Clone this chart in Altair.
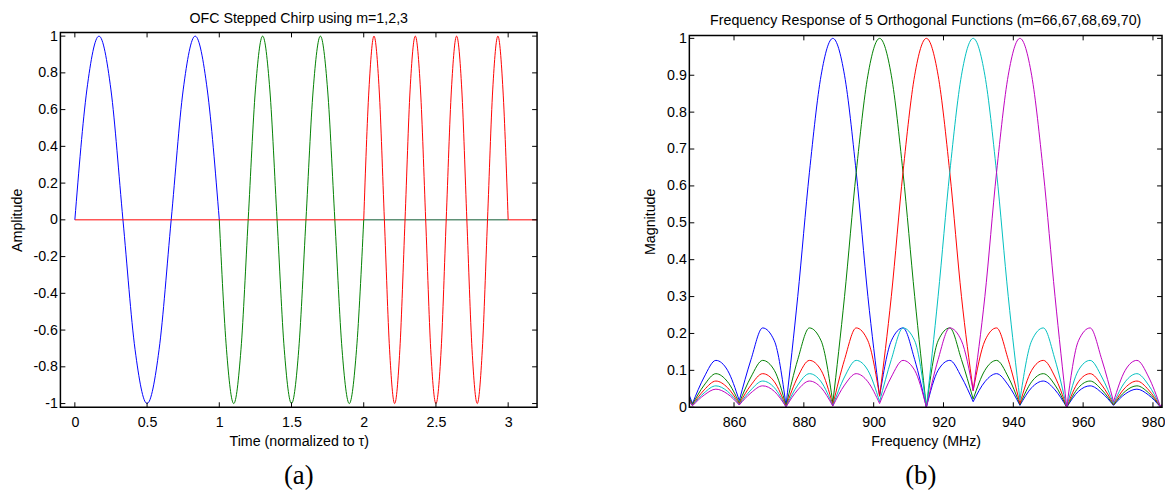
import altair as alt
import pandas as pd

# ---------------- Panel (a): OFC stepped chirp ----------------
TITLE_A = ["OFC Stepped Chirp using m=1,2,3"]
XLABEL_A = "Time (normalized to τ)"
YLABEL_A = "Amplitude"
CAPTION_A = ["(a)"]
SERIES_A = ["m=1", "m=2", "m=3"]

BLUE_T = [0.0, 0.083, 0.167, 0.25, 0.333, 0.417, 0.5, 0.583, 0.667, 0.75, 0.833, 0.917, 1.0]
BLUE_Y = [0.0, 0.707, 1.0, 0.707, 0.0, -0.707, -1.0, -0.707, 0.0, 0.707, 1.0, 0.707, 0.0]

GREEN_T = [1.0, 1.05, 1.1, 1.15, 1.2, 1.25, 1.3, 1.35, 1.4, 1.45, 1.5,
           1.55, 1.6, 1.65, 1.7, 1.75, 1.8, 1.85, 1.9, 1.95, 2.0]
GREEN_Y = [0.0, -0.707, -1.0, -0.707, 0.0, 0.707, 1.0, 0.707, 0.0, -0.707, -1.0,
           -0.707, 0.0, 0.707, 1.0, 0.707, 0.0, -0.707, -1.0, -0.707, 0.0]

RED_T = [2.0, 2.036, 2.071, 2.107, 2.143, 2.179, 2.214, 2.25, 2.286, 2.321, 2.357,
         2.393, 2.429, 2.464, 2.5, 2.536, 2.571, 2.607, 2.643, 2.679, 2.714, 2.75,
         2.786, 2.821, 2.857, 2.893, 2.929, 2.964, 3.0]
RED_Y = [0.0, 0.707, 1.0, 0.707, 0.0, -0.707, -1.0, -0.707, 0.0, 0.707, 1.0,
         0.707, 0.0, -0.707, -1.0, -0.707, 0.0, 0.707, 1.0, 0.707, 0.0, -0.707,
         -1.0, -0.707, 0.0, 0.707, 1.0, 0.707, 0.0]

# zero-level stretches of the series outside their own interval
ZERO_START = [0.0, 2.0, 3.0]
ZERO_END = [2.0, 3.0, 3.2]
ZERO_LEVEL = [0.0, 0.0, 0.0]
ZERO_SERIES = ["m=3", "m=2", "m=3"]

A_XTICKS = [0, 0.5, 1, 1.5, 2, 2.5, 3]
A_YTICKS = [-1, -0.8, -0.6, -0.4, -0.2, 0, 0.2, 0.4, 0.6, 0.8, 1]

# ---------------- Panel (b): frequency responses ----------------
TITLE_B = ["Frequency Response of 5 Orthogonal Functions (m=66,67,68,69,70)"]
XLABEL_B = "Frequency (MHz)"
YLABEL_B = "Magnitude"
CAPTION_B = ["(b)"]
SERIES_B = ["m=66", "m=67", "m=68", "m=69", "m=70"]

FREQ = [847.2, 848.1, 851.45, 854.8, 858.15, 861.5, 864.85, 868.2, 871.55, 874.9,
        878.25, 881.6, 884.95, 888.3, 891.65, 895.0, 898.35, 901.7, 905.05, 908.4,
        911.75, 915.1, 918.45, 921.8, 925.15, 928.5, 931.85, 935.2, 938.55, 941.9,
        945.25, 948.6, 951.95, 955.3, 958.65, 962.0, 965.35, 968.7, 972.05, 975.4,
        978.75, 982.1, 982.6]

MAG_66 = [0.032, 0.010, 0.082, 0.127, 0.100, 0.018, 0.129, 0.215, 0.180, 0.005,
          0.300, 0.637, 0.900, 1.000, 0.900, 0.637, 0.300, 0.030, 0.180, 0.215,
          0.129, 0.000, 0.100, 0.127, 0.082, 0.015, 0.069, 0.091, 0.060, 0.005,
          0.053, 0.071, 0.047, 0.000, 0.043, 0.058, 0.039, 0.005, 0.036, 0.049,
          0.033, 0.001, 0.004]
MAG_67 = [0.025, 0.008, 0.060, 0.091, 0.069, 0.012, 0.082, 0.127, 0.100, 0.003,
          0.129, 0.215, 0.180, 0.012, 0.300, 0.637, 0.900, 1.000, 0.900, 0.637,
          0.300, 0.000, 0.180, 0.215, 0.129, 0.022, 0.100, 0.127, 0.082, 0.007,
          0.069, 0.091, 0.060, 0.000, 0.053, 0.071, 0.047, 0.006, 0.043, 0.058,
          0.039, 0.002, 0.005]
MAG_68 = [0.020, 0.006, 0.047, 0.071, 0.053, 0.009, 0.060, 0.091, 0.069, 0.002,
          0.082, 0.127, 0.100, 0.006, 0.129, 0.215, 0.180, 0.030, 0.300, 0.637,
          0.900, 1.000, 0.900, 0.637, 0.300, 0.045, 0.180, 0.215, 0.129, 0.010,
          0.100, 0.127, 0.082, 0.000, 0.069, 0.091, 0.060, 0.008, 0.053, 0.071,
          0.047, 0.002, 0.006]
MAG_69 = [0.017, 0.005, 0.039, 0.058, 0.043, 0.007, 0.047, 0.071, 0.053, 0.001,
          0.060, 0.091, 0.069, 0.004, 0.082, 0.127, 0.100, 0.015, 0.129, 0.215,
          0.180, 0.000, 0.300, 0.637, 0.900, 1.000, 0.900, 0.637, 0.300, 0.020,
          0.180, 0.215, 0.129, 0.000, 0.100, 0.127, 0.082, 0.010, 0.069, 0.091,
          0.060, 0.003, 0.007]
MAG_70 = [0.015, 0.004, 0.033, 0.049, 0.036, 0.006, 0.039, 0.058, 0.043, 0.001,
          0.047, 0.071, 0.053, 0.003, 0.060, 0.091, 0.069, 0.010, 0.082, 0.127,
          0.100, 0.000, 0.129, 0.215, 0.180, 0.045, 0.300, 0.637, 0.900, 1.000,
          0.900, 0.637, 0.300, 0.000, 0.180, 0.215, 0.129, 0.015, 0.100, 0.127,
          0.082, 0.003, 0.008]

B_XTICKS = [860, 880, 900, 920, 940, 960, 980]
B_YTICKS = [0, 0.1, 0.2, 0.3, 0.4, 0.5, 0.6, 0.7, 0.8, 0.9, 1]

# ---------------- styling ----------------
FONT = "Liberation Sans"
SERIF = "Liberation Serif"
FS = 14.4
COLORS_A = ["#0000FF", "#008000", "#FF0000"]
ZERO_COLORS = {"m=3": "#FF0000", "m=2": "#0E5A32"}
COLORS_B = ["#0000FF", "#008000", "#FF0000", "#00BFBF", "#BF00BF"]
W_A, H_A, TOP_A = 482, 379, 0     # panel (a): frame from TOP_A to H_A
W_B, H_B, TOP_B = 478, 379, 3     # panel (b): frame starts 3px lower
TICK = 5

LABEL_EXPR = "datum.value < 0 ? '-' + format(-datum.value, '~g') : format(datum.value, '~g')"


def xaxis(title, values):
    return alt.Axis(title=title, values=values, labelExpr=LABEL_EXPR, ticks=False,
                    domain=False, grid=False, labelPadding=8, titlePadding=6,
                    labelFlush=False, labelOverlap=False)


def yaxis(title, values):
    return alt.Axis(title=title, values=values, labelExpr=LABEL_EXPR, ticks=False,
                    domain=False, grid=False, labelPadding=3, titlePadding=9,
                    labelFlush=False, labelOverlap=False)


def frame_and_ticks(xticks, yticks, xfield, yfield, xs, ys, xa, ya, w, h, top):
    dx = pd.DataFrame({xfield: xticks})
    dy = pd.DataFrame({yfield: yticks})
    base_x = alt.Chart(dx).mark_rule(color="black", strokeWidth=1)
    base_y = alt.Chart(dy).mark_rule(color="black", strokeWidth=1)
    X = alt.X(f"{xfield}:Q", scale=xs, axis=xa)
    Y = alt.Y(f"{yfield}:Q", scale=ys, axis=ya)
    frame = alt.Chart(pd.DataFrame({"k": [0]})).mark_rect(
        filled=False, stroke="black", strokeWidth=1.5
    ).encode(x=alt.value(0), x2=alt.value(w), y=alt.value(top), y2=alt.value(h))
    return [
        base_x.encode(x=X, y=alt.value(h), y2=alt.value(h - TICK)),
        base_x.encode(x=X, y=alt.value(top), y2=alt.value(top + TICK)),
        base_y.encode(y=Y, x=alt.value(0), x2=alt.value(TICK)),
        base_y.encode(y=Y, x=alt.value(w - TICK), x2=alt.value(w)),
        frame,
    ]


def caption(text, w, h, dx=0):
    return alt.Chart(pd.DataFrame({"c": text})).mark_text(
        font=SERIF, fontSize=27, color="black", align="center", baseline="middle"
    ).encode(text="c:N", x=alt.value(w / 2 + dx), y=alt.value(h + 70))


def title_text(text, w, y):
    return alt.Chart(pd.DataFrame({"c": text})).mark_text(
        font=FONT, fontSize=FS, color="black", align="center", baseline="alphabetic"
    ).encode(text="c:N", x=alt.value(w / 2), y=alt.value(y))


# ---------------- panel (a) ----------------
xs_a = alt.Scale(domain=[-0.1, 3.2], nice=False, zero=False)
ys_a = alt.Scale(domain=[-1.02, 1.02], nice=False, zero=False, range=[H_A, TOP_A])
xa_a = xaxis(XLABEL_A, A_XTICKS)
ya_a = yaxis(YLABEL_A, A_YTICKS)

df_a = pd.DataFrame({
    "t": BLUE_T + GREEN_T + RED_T,
    "v": BLUE_Y + GREEN_Y + RED_Y,
    "s": [SERIES_A[0]] * len(BLUE_T) + [SERIES_A[1]] * len(GREEN_T) + [SERIES_A[2]] * len(RED_T),
})
df_zero = pd.DataFrame({"t": ZERO_START, "t2": ZERO_END, "v": ZERO_LEVEL, "s": ZERO_SERIES})

waves = alt.Chart(df_a).mark_line(interpolate="monotone", strokeWidth=1, clip=True).encode(
    x=alt.X("t:Q", scale=xs_a, axis=xa_a),
    y=alt.Y("v:Q", scale=ys_a, axis=ya_a),
    color=alt.Color("s:N", scale=alt.Scale(domain=SERIES_A, range=COLORS_A), legend=None),
)

zero_layers = []
for s, col in ZERO_COLORS.items():
    zero_layers.append(
        alt.Chart(df_zero).transform_filter(alt.datum.s == s).mark_rule(strokeWidth=1, color=col).encode(
            x=alt.X("t:Q", scale=xs_a, axis=xa_a),
            x2="t2:Q",
            y=alt.Y("v:Q", scale=ys_a, axis=ya_a),
        )
    )

panel_a = alt.layer(
    zero_layers[1], waves, zero_layers[0],
    *frame_and_ticks(A_XTICKS, A_YTICKS, "t", "v", xs_a, ys_a, xa_a, ya_a, W_A, H_A, TOP_A),
    title_text(TITLE_A, W_A, -10),
    caption(CAPTION_A, W_A, H_A),
).properties(width=W_A, height=H_A)

# ---------------- panel (b) ----------------
xs_b = alt.Scale(domain=[847.2, 982.6], nice=False, zero=False)
ys_b = alt.Scale(domain=[0, 1.008], nice=False, zero=False, range=[H_B, TOP_B])
xa_b = xaxis(XLABEL_B, B_XTICKS)
ya_b = yaxis(YLABEL_B, B_YTICKS)

rows = []
for k, (name, vals) in enumerate(zip(SERIES_B, [MAG_66, MAG_67, MAG_68, MAG_69, MAG_70])):
    seg = 0
    n = len(vals)
    for i, (f, v) in enumerate(zip(FREQ, vals)):
        rows.append({"f": f, "m": v, "s": name, "seg": f"{k}_{seg:02d}"})
        if 0 < i < n - 1 and v <= vals[i - 1] and v <= vals[i + 1]:
            seg += 1
            rows.append({"f": f, "m": v, "s": name, "seg": f"{k}_{seg:02d}"})
df_b = pd.DataFrame(rows)

resp = alt.Chart(df_b).mark_line(interpolate="monotone", strokeWidth=1, clip=True).encode(
    x=alt.X("f:Q", scale=xs_b, axis=xa_b),
    y=alt.Y("m:Q", scale=ys_b, axis=ya_b),
    color=alt.Color("s:N", scale=alt.Scale(domain=SERIES_B, range=COLORS_B), legend=None),
    detail="seg:N",
)

panel_b = alt.layer(
    resp,
    *frame_and_ticks(B_XTICKS, B_YTICKS, "f", "m", xs_b, ys_b, xa_b, ya_b, W_B, H_B, TOP_B),
    title_text(TITLE_B, W_B, -8),
    caption(CAPTION_B, W_B, H_B, dx=-5),
).properties(width=W_B, height=H_B)

chart = alt.hconcat(panel_a, panel_b, spacing=105).resolve_scale(
    color="independent"
).properties(
    padding={"left": 1, "top": 0, "right": 0, "bottom": 0},
    background="white",
).configure_view(
    stroke=None
).configure_axis(
    labelFont=FONT, labelFontSize=FS, labelColor="black",
    titleFont=FONT, titleFontSize=FS, titleFontWeight="normal", titleColor="black",
)

chart.save("out.html", embed_options={"renderer": "svg", "actions": False})
